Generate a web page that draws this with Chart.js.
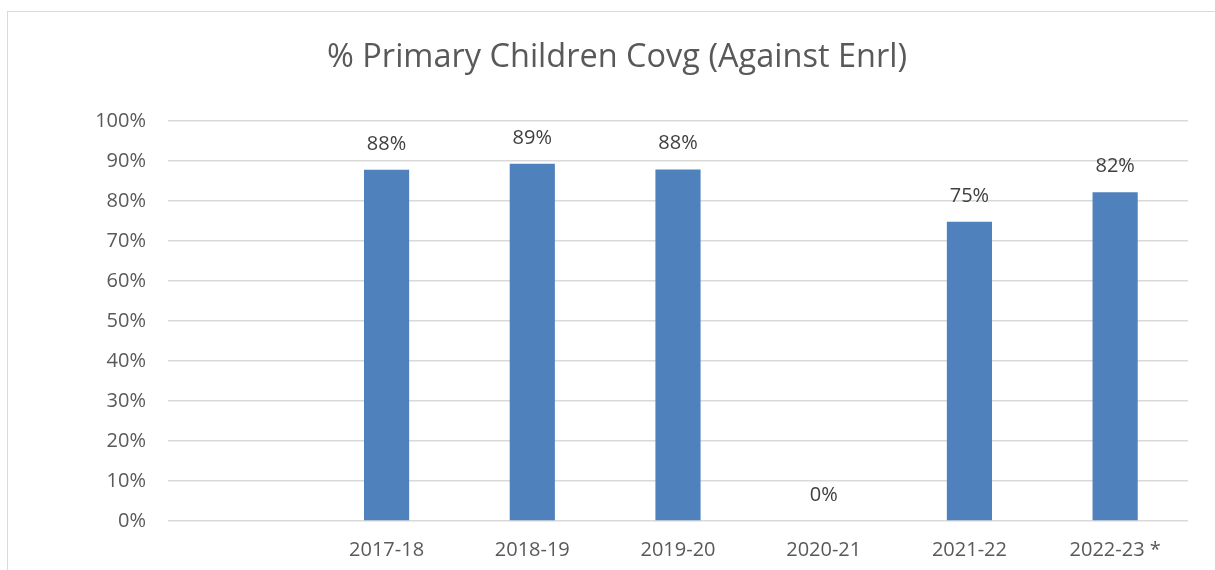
<!DOCTYPE html>
<html>
<head>
<meta charset="utf-8">
<script src="https://cdn.jsdelivr.net/npm/chart.js@4/dist/chart.umd.min.js"></script>
<style>
  html, body { margin: 0; padding: 0; background: #fff; overflow: hidden; }
  #wrap { position: relative; width: 1215px; height: 570px; overflow: hidden; }
  #frame { position: absolute; left: 7px; top: 11px; width: 1300px; height: 600px; border: 1px solid #d9d9d9; pointer-events: none; }
  canvas { position: absolute; left: 0; top: 0; }
</style>
</head>
<body>
<div id="wrap">
  <canvas id="c" width="1215" height="570"></canvas>
  <div id="frame"></div>
</div>
<script>
const chartTitle = "% Primary Children Covg (Against Enrl)";
const categories = ["", "2017-18", "2018-19", "2019-20", "2020-21", "2021-22", "2022-23 *"];
const coverage = [null, 0.878, 0.893, 0.879, 0, 0.748, 0.822];
const yTicks = [0, 0.1, 0.2, 0.3, 0.4, 0.5, 0.6, 0.7, 0.8, 0.9, 1.0];

const FONT = "'Open Sans', 'DejaVu Sans', sans-serif";

const dataLabels = {
  id: 'dataLabels',
  afterDatasetsDraw(chart) {
    const ctx = chart.ctx;
    const meta = chart.getDatasetMeta(0);
    ctx.save();
    ctx.font = "20px " + FONT;
    ctx.fillStyle = "#404040";
    ctx.textAlign = "center";
    ctx.textBaseline = "middle";
    meta.data.forEach((bar, i) => {
      const v = coverage[i];
      if (v === null || v === undefined) return;
      ctx.fillText(Math.round(v * 100) + "%", bar.x, bar.y - 26);
    });
    ctx.restore();
  }
};

new Chart(document.getElementById('c'), {
  type: 'bar',
  data: {
    labels: categories,
    datasets: [{
      data: coverage,
      backgroundColor: '#4f81bd',
      borderWidth: 0,
      barPercentage: 1,
      categoryPercentage: 0.31
    }]
  },
  options: {
    responsive: false,
    animation: false,
    devicePixelRatio: 1,
    layout: { padding: { left: 46, right: 27, top: 0, bottom: 0 } },
    plugins: {
      legend: { display: false },
      tooltip: { enabled: false },
      title: {
        display: true,
        text: chartTitle,
        color: '#595959',
        font: { family: FONT, size: 32.5, weight: 'normal' },
        padding: { top: 38, bottom: 44 }
      }
    },
    scales: {
      x: {
        grid: { display: false, drawTicks: false },
        border: { display: false },
        ticks: {
          color: '#595959',
          font: { family: FONT, size: 20 },
          padding: 17,
          maxRotation: 0,
          autoSkip: false
        },
        afterFit(scale) { scale.height = 49; }
      },
      y: {
        min: 0,
        max: 1,
        afterBuildTicks(scale) { scale.ticks = yTicks.map(v => ({ value: v })); },
        grid: { color: '#d9d9d9', lineWidth: 1.5, drawTicks: false },
        border: { display: false },
        ticks: {
          color: '#595959',
          font: { family: FONT, size: 20 },
          padding: 22,
          callback: v => Math.round(v * 100) + '%'
        },
        afterFit(scale) { scale.width = 122; }
      }
    }
  },
  plugins: [dataLabels]
});
</script>
</body>
</html>
